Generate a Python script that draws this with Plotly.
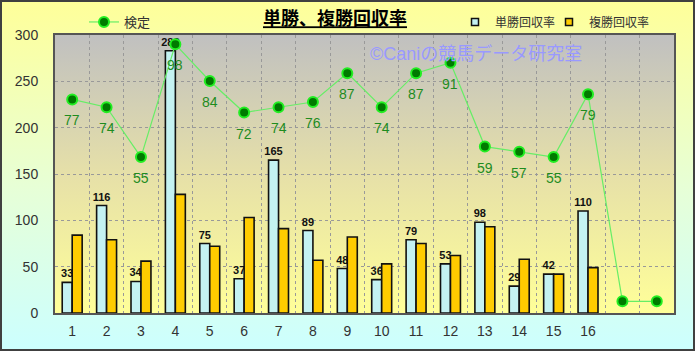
import base64
import plotly.graph_objects as go

# ---- data ----
categories = [str(i) for i in range(1, 19)]
tick_labels = [str(i) for i in range(1, 17)] + ["", ""]
tansho = [33, 116, 34, 283, 75, 37, 165, 89, 48, 36, 79, 53, 98, 29, 42, 110]
fukusho = [84, 79, 56, 128, 72, 103, 91, 57, 82, 53, 75, 62, 93, 58, 42, 49]
kentei = [77, 74, 55, 98, 84, 72, 74, 76, 87, 74, 87, 91, 59, 57, 55, 79, 0, 0]
kentei_labels = [str(v) for v in kentei[:16]] + ["", ""]

W, H = 695, 351
ML, MR, MT, MB = 55, 21, 35, 38
PW, PH = W - ML - MR, H - MT - MB

FONT = "Liberation Sans, Arial, Noto Sans CJK JP"
CYAN = "#C4F2F2"
GOLD = "#FFCC00"


def grad_svg(c_top, c_bot, stops=""):
    svg = (
        '<svg xmlns="http://www.w3.org/2000/svg" width="100" height="100" preserveAspectRatio="none">'
        '<defs><linearGradient id="g" x1="0" y1="0" x2="0" y2="1">'
        f'<stop offset="0" stop-color="{c_top}"/>' + stops +
        f'<stop offset="1" stop-color="{c_bot}"/>'
        '</linearGradient></defs><rect width="100" height="100" fill="url(#g)"/></svg>'
    )
    return "data:image/svg+xml;base64," + base64.b64encode(svg.encode()).decode()


fig = go.Figure()

fig.add_trace(go.Bar(
    x=categories[:16], y=tansho, name="単勝回収率",
    marker=dict(color=CYAN, line=dict(color="#111111", width=1.6)),
    texttemplate="<b>%{y}</b>", textposition="outside", constraintext="none",
    textfont=dict(size=11, color="#111111", family=FONT),
    cliponaxis=False, showlegend=False,
))
fig.add_trace(go.Bar(
    x=categories[:16], y=fukusho, name="複勝回収率",
    marker=dict(color=GOLD, line=dict(color="#111111", width=1.6)),
    showlegend=False,
))
fig.add_trace(go.Scatter(
    x=categories, y=kentei, name="検定", yaxis="y2",
    mode="lines+markers",
    line=dict(color="#66EE66", width=1.2),
    marker=dict(size=10, color="#007A00", line=dict(color="#22EE22", width=2)),
    cliponaxis=False, legend="legend", showlegend=True,
))
# legend entries for the bar series (small square keys)
for nm, col, lg in [("単勝回収率", CYAN, "legend2"), ("複勝回収率", GOLD, "legend3")]:
    fig.add_trace(go.Scatter(
        x=[None], y=[None], mode="markers", name=nm,
        marker=dict(symbol="square", size=7, color=col, line=dict(color="#111111", width=1.5)),
        legend=lg, showlegend=True,
    ))

annotations = [
    dict(text="©Caniの競馬データ研究室", xref="paper", yref="paper",
         x=(368 - ML) / PW, xanchor="left", y=(PH + MT - 54) / PH, yanchor="middle",
         showarrow=False, font=dict(size=18, color="#9999FF", family=FONT)),
]
for i, (v, lab) in enumerate(zip(kentei, kentei_labels)):
    if lab:
        annotations.append(dict(
            x=i, y=v, xref="x", yref="y2", text=lab, showarrow=False,
            yshift=-21, font=dict(size=14, color="#1E8C1E", family=FONT),
        ))

leg_common = dict(xref="container", yref="container", yanchor="middle", xanchor="left",
                  bgcolor="rgba(0,0,0,0)", itemwidth=30)

fig.update_layout(
    width=W, height=H,
    margin=dict(l=ML, r=MR, t=MT, b=MB, autoexpand=False),
    paper_bgcolor="rgba(0,0,0,0)",
    plot_bgcolor="rgba(0,0,0,0)",
    font=dict(family=FONT, size=13, color="#333333"),
    barmode="group", bargap=0.42, bargroupgap=0,
    showlegend=True,
    title=dict(
        text="<b><u>単勝、複勝回収率</u></b>",
        x=335 / W, xanchor="center", y=1 - 19 / H, yanchor="middle",
        font=dict(size=18, color="#000000", family=FONT),
    ),
    xaxis=dict(
        type="category", categoryorder="array", categoryarray=categories,
        tickvals=categories, ticktext=tick_labels, tickson="boundaries",
        showgrid=True, gridcolor="#999999", griddash="dot", gridwidth=1,
        showline=True, linecolor="#555555", linewidth=2, mirror=True,
        ticks="", tickfont=dict(size=14, color="#333333"), ticklabelstandoff=4,
        range=[-0.5, 17.5],
    ),
    yaxis=dict(
        range=[0, 300], dtick=50,
        showgrid=True, gridcolor="#999999", griddash="dot", gridwidth=1,
        showline=True, linecolor="#555555", linewidth=2, mirror=True,
        ticks="", tickfont=dict(size=14, color="#333333"), ticklabelstandoff=12,
        zeroline=False,
    ),
    yaxis2=dict(range=[-4.45, 101.55], overlaying="y", visible=False),
    legend=dict(x=84 / W, y=1 - 22 / H, font=dict(size=13, color="#333333"), **leg_common),
    legend2=dict(x=455 / W, y=1 - 22 / H, font=dict(size=12, color="#333333"), **leg_common),
    legend3=dict(x=549 / W, y=1 - 22 / H, font=dict(size=12, color="#333333"), **leg_common),
    images=[
        dict(source=grad_svg("#FFFF99", "#CCFFFF", '<stop offset="0.55" stop-color="#E6FFD8"/>'),
             xref="paper", yref="paper", x=-ML / PW, y=1 + MT / PH,
             sizex=W / PW, sizey=H / PH, sizing="stretch", layer="below",
             xanchor="left", yanchor="top"),
        dict(source=grad_svg("#C0C0C0", "#FFFF99", '<stop offset="0.5" stop-color="#E6E0A8"/>'),
             xref="paper", yref="paper", x=0, y=1, sizex=1, sizey=1,
             sizing="stretch", layer="below", xanchor="left", yanchor="top"),
    ],
    shapes=[
        dict(type="rect", xref="paper", yref="paper",
             x0=(-ML + 1) / PW, x1=1 + (MR - 1) / PW,
             y0=(-MB + 1) / PH, y1=1 + (MT - 1) / PH,
             line=dict(color="#404040", width=2), layer="above"),
    ],
    annotations=annotations,
)

fig.write_html("out.html")
